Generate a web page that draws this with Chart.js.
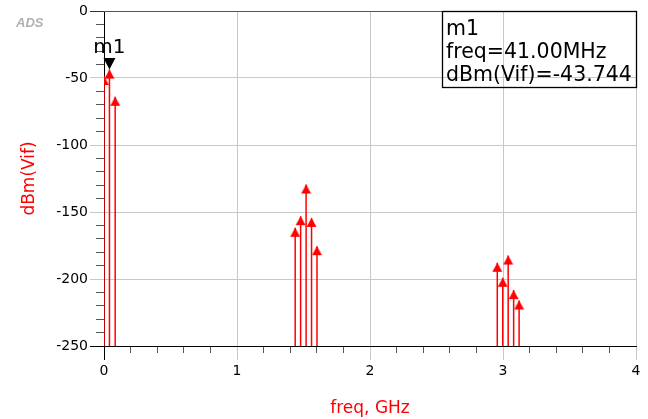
<!DOCTYPE html>
<html>
<head>
<meta charset="utf-8">
<script src="https://cdn.jsdelivr.net/npm/chart.js@4/dist/chart.umd.min.js"></script>
<style>
    html, body { margin: 0; padding: 0; background: #fff; }
    #specChart { display: block; }
</style>
</head>
<body>
<canvas id="specChart" width="648" height="419"></canvas>
<script>
// spectrum lines (GHz / dBm)
var freq_ghz = [0, 0.041, 0.084, 1.4375, 1.4785, 1.5195, 1.5605, 1.6015, 2.957, 2.998, 3.039, 3.08, 3.121];
var dbm_vif = [-48.5, -43.744, -64, -161.8, -153.1, -129.5, -154.4, -175.5, -187.9, -199.1, -182.5, -208.3, -216];

var x_ticks = [0, 1, 2, 3, 4];
var y_ticks = [-250, -200, -150, -100, -50, 0];

var marker_name = "m1";
var marker_index = 1;

var floor_dbm = y_ticks[0];

//-------------
//- STEMS -
//-------------
var stem_points = [];
freq_ghz.forEach(function (f, i) {
    stem_points.push({ x: f, y: floor_dbm });
    stem_points.push({ x: f, y: dbm_vif[i] });
    stem_points.push({ x: f, y: null });
});
var tip_points = freq_ghz.map(function (f, i) {
    return { x: f, y: dbm_vif[i] };
});

// arrow head, tip sits on the canvas centre
var arrowHead = document.createElement("canvas");
arrowHead.width = 11;
arrowHead.height = 20;
var ah = arrowHead.getContext("2d");
ah.fillStyle = "#ff0000";
ah.beginPath();
ah.moveTo(5.5, 10);
ah.lineTo(10.5, 19);
ah.lineTo(0.5, 19);
ah.closePath();
ah.fill();

var gridGray = "#c8c8c8";
var minorGray = "#555";

var markerPlugin = {
    id: "markerPlugin",
    afterDraw: function (chart) {
        var ctx = chart.ctx;
        var area = chart.chartArea;
        var xs = chart.scales.x;
        var ys = chart.scales.y;

        // ADS logo
        ctx.save();
        ctx.font = "italic bold 13px 'Liberation Sans'";
        ctx.fillStyle = "#b0b0b0";
        ctx.textBaseline = "alphabetic";
        ctx.fillText("ADS", 16, 27);

        // top frame line
        ctx.strokeStyle = "#555";
        ctx.lineWidth = 1;
        ctx.beginPath();
        ctx.moveTo(area.left, area.top + 0.5);
        ctx.lineTo(area.right, area.top + 0.5);
        ctx.stroke();

        // marker triangle + name
        var mf = freq_ghz[marker_index];
        var mv = dbm_vif[marker_index];
        var px = xs.getPixelForValue(mf);
        var py = ys.getPixelForValue(mv);
        ctx.fillStyle = "#000";
        ctx.beginPath();
        ctx.moveTo(px, py);
        ctx.lineTo(px + 6, py - 11.5);
        ctx.lineTo(px - 6, py - 11.5);
        ctx.closePath();
        ctx.fill();
        ctx.font = "20px 'DejaVu Sans'";
        ctx.textAlign = "center";
        ctx.fillText(marker_name, px, py - 16.5);

        // marker readout box
        var bw = 194, bh = 76;
        var bx = area.right - bw;
        var by = area.top;
        ctx.strokeStyle = "#000";
        ctx.lineWidth = 1.3;
        ctx.strokeRect(bx + 0.5, by + 0.5, bw, bh);
        ctx.textAlign = "left";
        ctx.font = "20.5px 'DejaVu Sans'";
        ctx.fillText(marker_name, bx + 4, by + 24);
        ctx.fillText("freq=" + (mf * 1000).toFixed(2) + "MHz", bx + 4, by + 46.5);
        ctx.fillText("dBm(Vif)=" + mv.toFixed(3), bx + 4, by + 70);
        ctx.restore();
    },
};

var specCanvas = document.getElementById("specChart").getContext("2d");

new Chart(specCanvas, {
    type: "scatter",
    data: {
        datasets: [
            {
                data: stem_points,
                showLine: true,
                spanGaps: false,
                borderColor: "#ff0000",
                borderWidth: 1.5,
                pointRadius: 0,
                order: 2,
            },
            {
                data: tip_points,
                pointStyle: arrowHead,
                pointRadius: 5,
                order: 1,
            },
        ],
    },
    options: {
        responsive: false,
        animation: false,
        events: [],
        layout: { padding: { top: 11, right: 12, left: 0, bottom: 0 } },
        plugins: {
            legend: { display: false },
            tooltip: { enabled: false },
        },
        scales: {
            x: {
                type: "linear",
                position: "bottom",
                weight: 1,
                min: x_ticks[0],
                max: x_ticks[x_ticks.length - 1],
                afterBuildTicks: function (axis) {
                    axis.ticks = x_ticks.map(function (v) { return { value: v }; });
                },
                afterFit: function (axis) { axis.height = 73; },
                grid: {
                    color: function (c) { return c.tick && c.tick.value === 0 ? "#000" : gridGray; },
                    tickLength: 14,
                },
                border: { display: true, color: "#000", width: 1 },
                ticks: {
                    padding: 3,
                    color: "#000",
                    font: { family: "DejaVu Sans", size: 14 },
                },
                title: {
                    display: true,
                    text: "freq, GHz",
                    color: "#ff0000",
                    font: { family: "DejaVu Sans", size: 17 },
                    padding: { top: 0, bottom: 0 },
                },
            },
            x2: {
                type: "linear",
                position: "bottom",
                weight: 0,
                min: 0,
                max: 4,
                afterBuildTicks: function (axis) {
                    var t = [];
                    for (var v = 0.2; v < 4; v += 0.2) {
                        if (Math.abs(v - Math.round(v)) > 1e-6) t.push({ value: v });
                    }
                    axis.ticks = t;
                },
                afterFit: function (axis) { axis.height = 0; },
                grid: { drawOnChartArea: false, color: minorGray, tickLength: 7 },
                border: { display: false },
                ticks: { display: false },
            },
            y: {
                type: "linear",
                position: "left",
                weight: 1,
                min: y_ticks[0],
                max: y_ticks[y_ticks.length - 1],
                afterBuildTicks: function (axis) {
                    axis.ticks = y_ticks.map(function (v) { return { value: v }; });
                },
                afterFit: function (axis) { axis.width = 104; },
                grid: {
                    color: function (c) {
                        if (!c.tick) return gridGray;
                        if (c.tick.value === 0) return "#333";
                        if (c.tick.value === floor_dbm) return "#000";
                        return gridGray;
                    },
                    tickLength: 14,
                },
                border: { display: true, color: "#000", width: 1 },
                ticks: {
                    padding: 2,
                    color: "#000",
                    font: { family: "DejaVu Sans", size: 14 },
                },
                title: {
                    display: true,
                    text: "dBm(Vif)",
                    color: "#ff0000",
                    font: { family: "DejaVu Sans", size: 17 },
                    padding: { top: 19, bottom: 0 },
                },
            },
            y2: {
                type: "linear",
                position: "left",
                weight: 0,
                min: -250,
                max: 0,
                afterBuildTicks: function (axis) {
                    var t = [];
                    for (var v = -240; v < 0; v += 10) {
                        if (v % 50 !== 0) t.push({ value: v });
                    }
                    axis.ticks = t;
                },
                afterFit: function (axis) { axis.width = 0; },
                grid: { drawOnChartArea: false, color: minorGray, tickLength: 8 },
                border: { display: false },
                ticks: { display: false },
            },
        },
    },
    plugins: [markerPlugin],
});
</script>
</body>
</html>
